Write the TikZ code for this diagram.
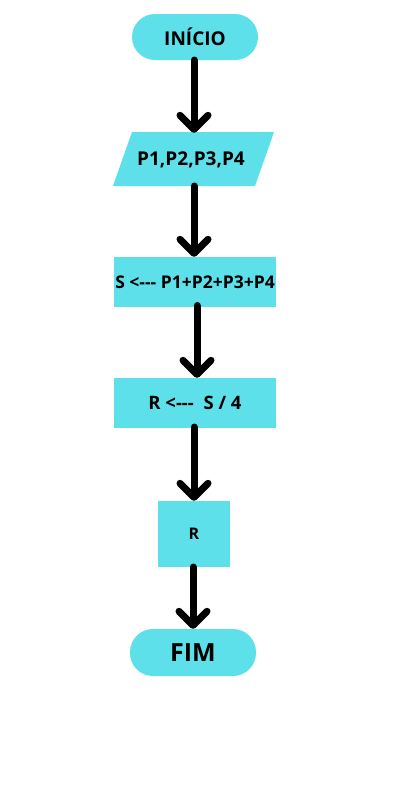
\documentclass[tikz,border=0pt]{standalone}
\usepackage{fontspec}
\setmainfont{Open Sans}
\usetikzlibrary{arrows.meta}
\definecolor{boxcyan}{RGB}{93,224,234}
\tikzset{
  box/.style={fill=boxcyan, draw=none, inner sep=0pt, font=\bfseries},
  term/.style={box, rounded corners=23pt},
  arr/.style={line width=7pt, line cap=round, line join=round,
    -{Straight Barb[length=14pt, width=28pt, round]}},
}
\begin{document}
\begin{tikzpicture}[x=1pt, y=-1pt]
  \useasboundingbox[fill=white] (0,0) rectangle (400,793);

  % start terminal
  \node[term, minimum width=126pt, minimum height=46pt, font=\bfseries\fontsize{19}{19}\selectfont] (ini) at (195,37) {INÍCIO};

  % input parallelogram
  \fill[boxcyan] (113,186) -- (132,132) -- (274,132) -- (255,186) -- cycle;
  \node[inner sep=0pt, minimum width=142pt, minimum height=54pt, font=\bfseries\fontsize{19}{19}\selectfont] (inp) at (191,160) {P1,P2,P3,P4};

  % processing steps
  \node[box, minimum width=162pt, minimum height=50pt, font=\bfseries\fontsize{17.5}{17.5}\selectfont] (soma) at (195,282) {S <-{}-{}- P1+P2+P3+P4};
  \node[box, minimum width=162pt, minimum height=50pt, font=\bfseries\fontsize{18.5}{18.5}\selectfont] (media) at (195,403) {R <-{}-{}-~~S / 4};

  % output
  \node[box, minimum width=72pt, minimum height=66pt, font=\bfseries\fontsize{16}{16}\selectfont] (out) at (194,534) {R};

  % end terminal
  \node[term, minimum width=126pt, minimum height=47pt, font=\bfseries\fontsize{25}{25}\selectfont] (fim) at (193,652.5) {FIM};

  % connectors
  \draw[arr] (194,60) coordinate (a0) -- (a0 |- inp.north);
  \draw[arr] (194,186) coordinate (a1) -- (a1 |- soma.north);
  \draw[arr] (197,305.5) coordinate (a2) -- (a2 |- media.north);
  \draw[arr] (194,427) coordinate (a3) -- (a3 |- out.north);
  \draw[arr] (193,567) coordinate (a4) -- (a4 |- fim.north);
\end{tikzpicture}
\end{document}
